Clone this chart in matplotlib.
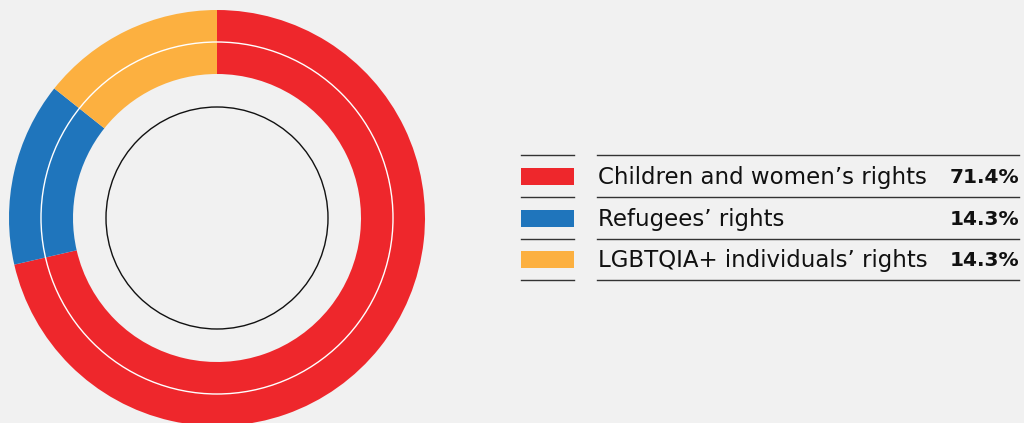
import matplotlib.pyplot as plt
from matplotlib.patches import Circle, Rectangle

labels = ["Children and women\u2019s rights", "Refugees\u2019 rights", "LGBTQIA+ individuals\u2019 rights"]
values = [71.4, 14.3, 14.3]
colors = ["#ee272c", "#1f75bc", "#fcb040"]

bg = "#f1f1f1"
W, H = 1024, 423

fig = plt.figure(figsize=(W / 100, H / 100), dpi=100, facecolor=bg)
ax = fig.add_axes([0, 0, 1, 1])
ax.set_facecolor(bg)

# donut, centre and radius in pixel units
cx, cy, r = 217, H - 218, 208
ax.pie(values, colors=colors, startangle=90, counterclock=False,
       center=(cx, cy), radius=r, frame=True,
       wedgeprops=dict(width=r - 144, linewidth=0))
ax.add_patch(Circle((cx, cy), 176, fill=False, edgecolor="white", lw=1.0))
ax.add_patch(Circle((cx, cy), 111, fill=False, edgecolor="#111111", lw=1.0))

# legend table
line_ys = [155, 197, 239, 280]
for y in line_ys:
    ax.plot([521, 574], [H - y, H - y], color="#333333", lw=1)
    ax.plot([597, 1019], [H - y, H - y], color="#333333", lw=1)

for i, (lab, val, col) in enumerate(zip(labels, values, colors)):
    yc = H - (line_ys[i] + line_ys[i + 1]) / 2
    ax.add_patch(Rectangle((521, yc - 8.5), 53, 17, facecolor=col, edgecolor="none"))
    ax.text(598, yc - 1, lab, fontsize=16.5, family="DejaVu Sans", fontweight="normal",
            color="#111111", va="center", ha="left")
    ax.text(1019, yc - 1, f"{val:.1f}%", fontsize=14.5, family="DejaVu Sans", fontweight="bold",
            color="#111111", va="center", ha="right")

ax.set_xlim(0, W)
ax.set_ylim(0, H)
ax.set_aspect("auto")
ax.axis("off")

fig.savefig("out.png", dpi=100, facecolor=bg)
